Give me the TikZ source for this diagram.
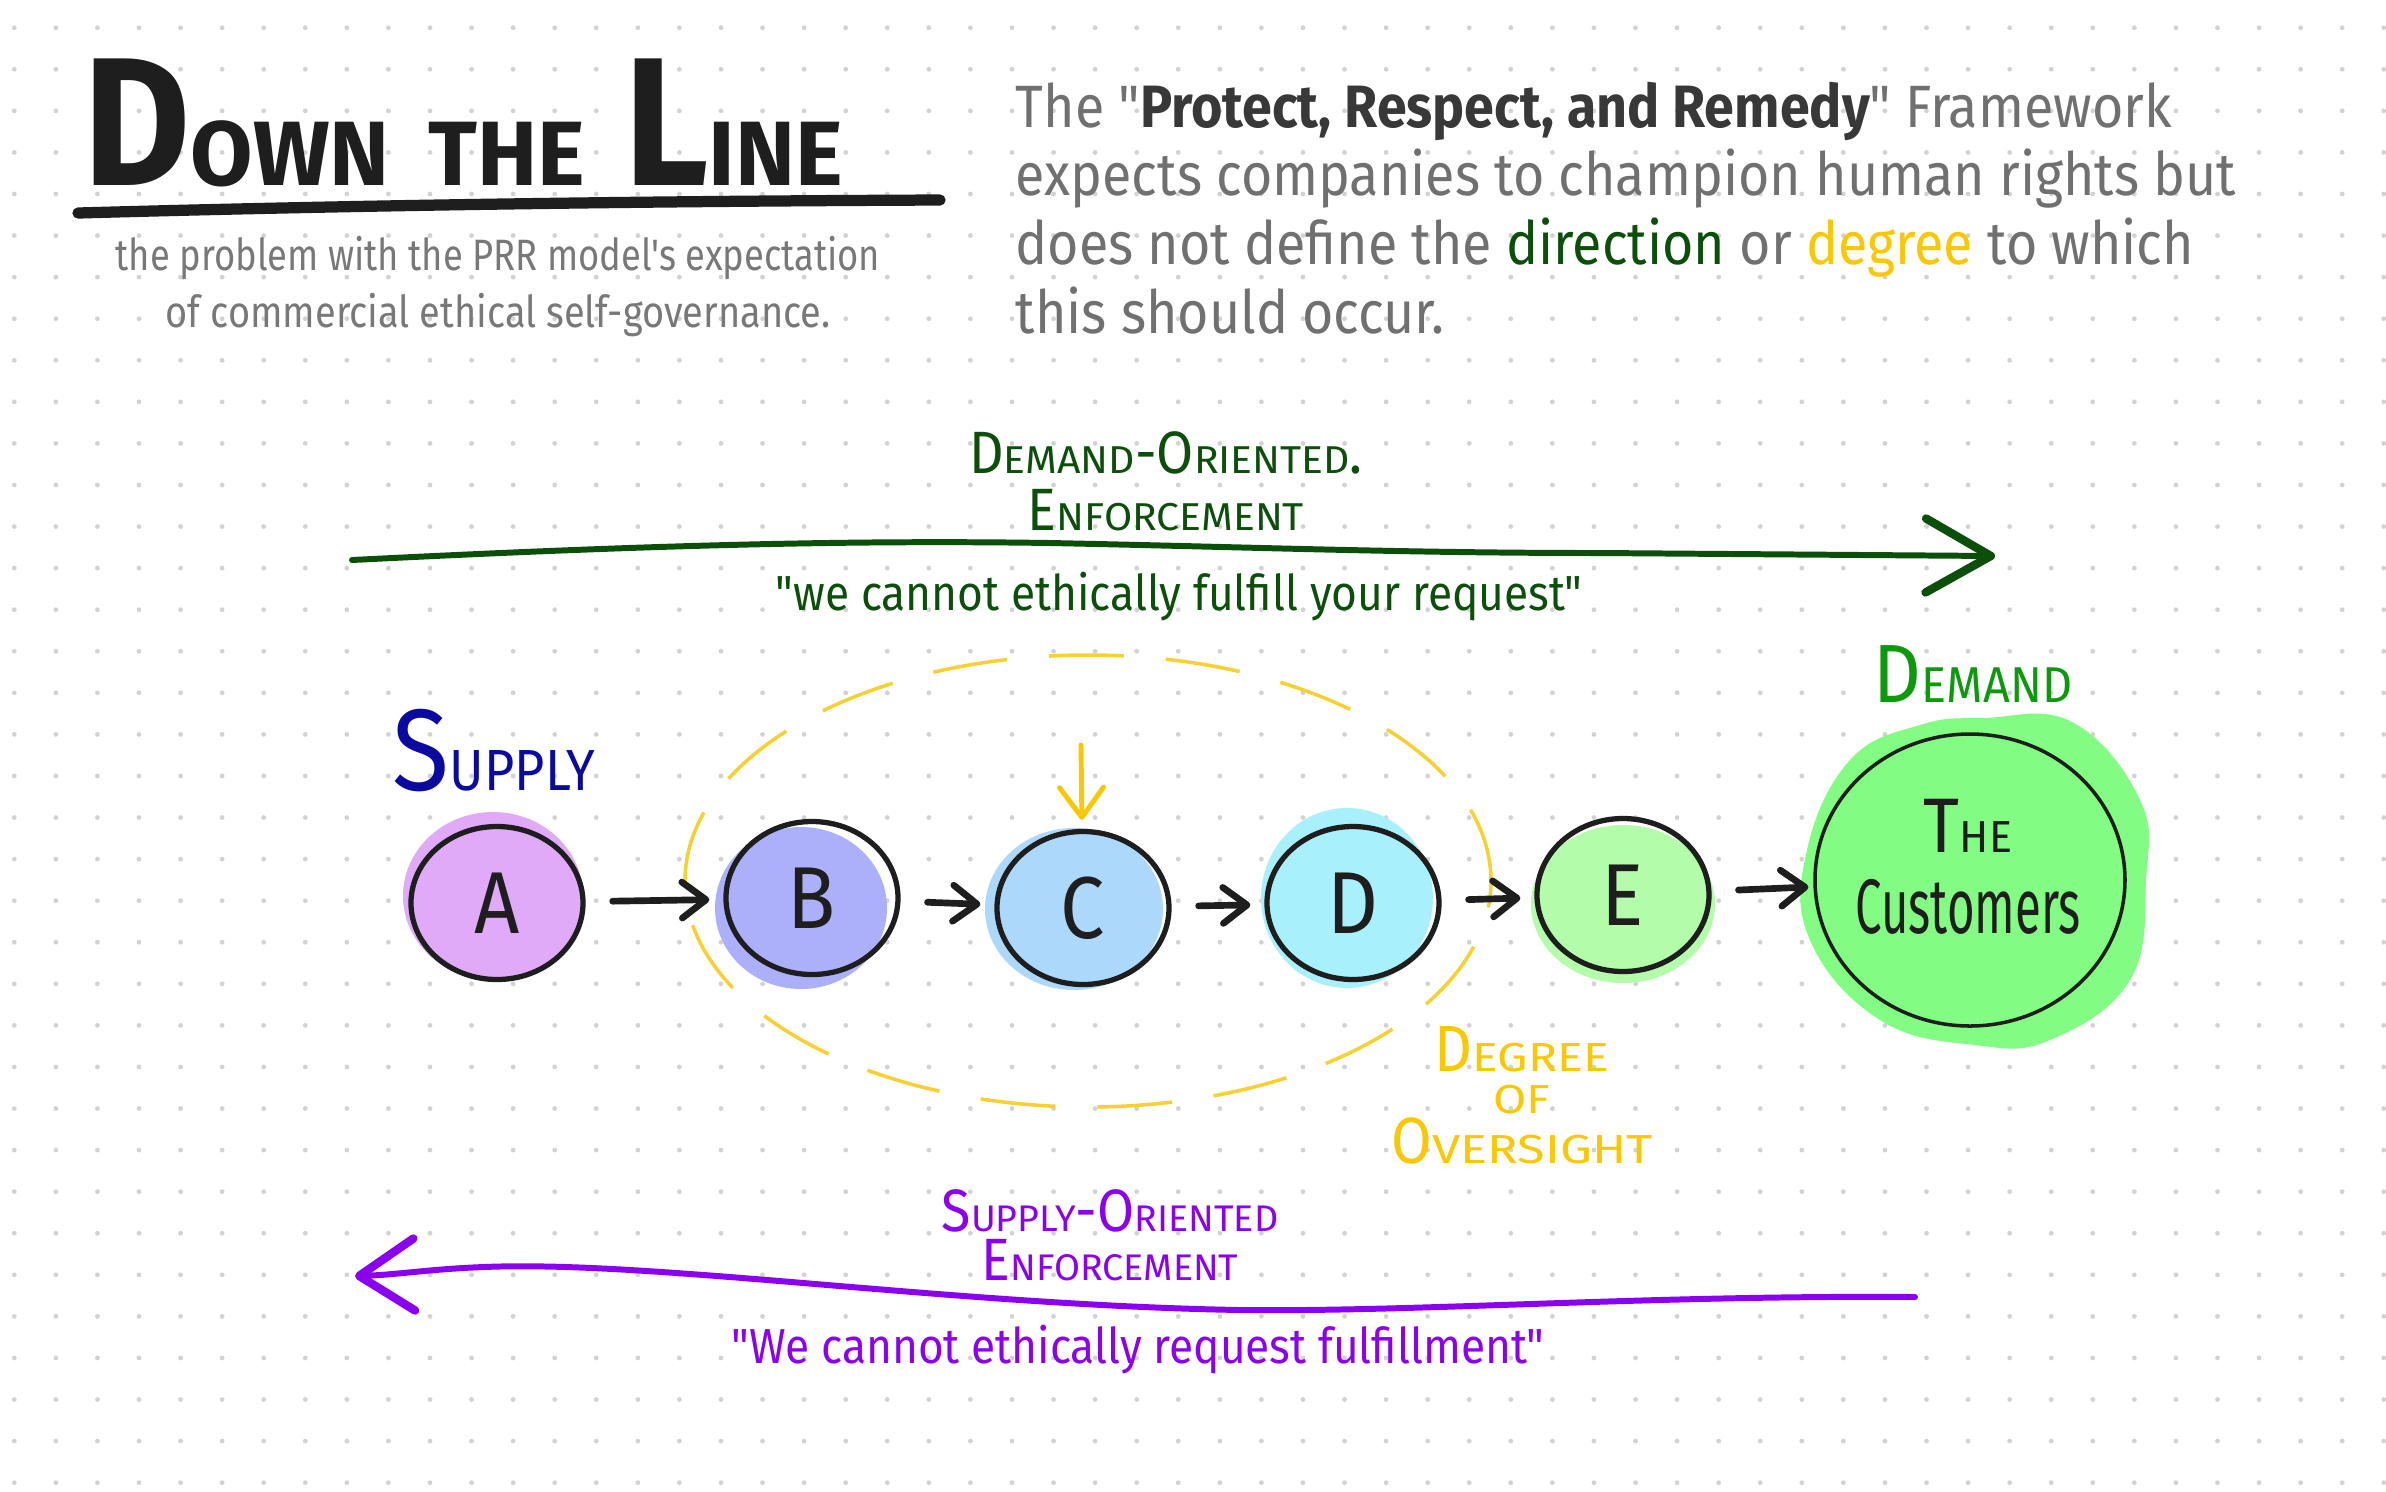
\documentclass[tikz,border=0pt]{standalone}
\usepackage{fontspec}
\usepackage{graphicx}
\setmainfont{Fira Sans}[FakeStretch=0.9, Ligatures=TeXOff]
\usetikzlibrary{positioning, arrows.meta, shapes.geometric}
\definecolor{ink}{HTML}{1E1E1E}
\definecolor{dotgray}{HTML}{D2D2D2}
\definecolor{subgray}{HTML}{787878}
\definecolor{paragray}{HTML}{707070}
\definecolor{boldgray}{HTML}{383838}
\definecolor{dirgreen}{HTML}{0B4F0B}
\definecolor{degyellow}{HTML}{FAC800}
\definecolor{ringyellow}{HTML}{F8D030}
\definecolor{supplyblue}{HTML}{0A0AA0}
\definecolor{demandgreen}{HTML}{0C9A0C}
\definecolor{supplypurple}{HTML}{8C00F0}
\definecolor{fillA}{HTML}{E0AAF8}
\definecolor{fillB}{HTML}{ACB0FA}
\definecolor{fillC}{HTML}{ACD8FC}
\definecolor{fillD}{HTML}{A8F0FC}
\definecolor{fillE}{HTML}{B2FCAA}
\definecolor{fillcust}{HTML}{82FC82}
% big first letter, rest as wide small capitals: {xscale}{yscale}{first}{rest}
\newcommand{\sccap}[4]{#3\scalebox{#1}[#2]{#4}}

\begin{document}
\begin{tikzpicture}[
    station/.style={ellipse, draw=ink, line width=1.5pt, minimum width=1.72cm, minimum height=1.53cm, inner sep=0pt, text=ink, font=\fontsize{25}{25}\selectfont},
    flow/.style={-{Straight Barb[length=2.4mm, width=3.6mm, round]}, draw=ink, line width=1.9pt, line cap=round, shorten <=0.27cm, shorten >=0.14cm},
    bigarrow/.style={line width=1.7pt, line cap=round},
    arrowlabel/.style={align=center, inner sep=0pt, font=\fontsize{17}{16.2}\selectfont},
    quote/.style={inner sep=0pt, font=\fontsize{14}{14}\selectfont}]
    \fill[white] (0,0) rectangle (23.86,-14.91);
    \useasboundingbox (0,0) rectangle (23.86,-14.91);

    % dot grid
    \foreach \col in {0,...,57}
        \foreach \row in {0,...,35}
            \fill[dotgray] ({0.143+0.4157*\col},{-0.277-0.4157*\row}) circle (0.024);

    % heading
    \node[anchor=base west, inner sep=0pt, text=ink, font=\bfseries\fontsize{52}{52}\selectfont] (title) at (0.83,-1.85)
        {\sccap{0.55}{0.5}{D}{OWN} \scalebox{0.55}[0.5]{THE} \sccap{0.55}{0.5}{L}{INE}};
    \draw[ink, line width=3.2pt, line cap=round] (0.78,-2.13) .. controls (4,-2.04) and (7,-2.01) .. (9.40,-2.00);
    \node[anchor=base, align=center, inner sep=0pt, text=subgray, font=\fontsize{12.5}{16.2}\selectfont] (subtitle) at (4.98,-3.27)
        {\scalebox{0.92}[1]{the problem with the PRR model's expectation}\\\scalebox{0.96}[1]{of commercial ethical self-governance.}};
    \node[anchor=base west, align=left, inner sep=0pt, text=paragray, font=\fontsize{17}{19.5}\selectfont] (framework) at (10.15,-3.33)
        {The "\textcolor{boldgray}{\bfseries Protect, Respect, and Remedy}" Framework\\
         expects companies to champion human rights but\\
         does not define the \textcolor{dirgreen}{direction} or \textcolor{degyellow}{degree} to which\\
         this should occur.};

    % demand-oriented arrow
    \coordinate (demandtail) at (3.52,-5.60);
    \coordinate (demandtip) at (19.95,-5.56);
    \draw[bigarrow, dirgreen, -{Straight Barb[length=6.5mm, width=7.4mm, line width=2.4pt, round]}]
        (demandtail) .. controls (6.5,-5.45) and (8.5,-5.40) .. (10.5,-5.43)
        .. controls (12.5,-5.47) and (14,-5.53) .. (16,-5.53) -- (demandtip);
    \node[arrowlabel, anchor=base, text=dirgreen] (demandlabel) at (11.66,-5.30)
        {\sccap{0.76}{0.65}{D}{EMAND}-\sccap{0.76}{0.65}{O}{RIENTED}.\\\sccap{0.76}{0.65}{E}{NFORCEMENT}};
    \node[quote, anchor=base, text=dirgreen] (demandquote) at (11.79,-6.10) {"we cannot ethically fulfill your request"};

    % colour blobs behind the stations
    \fill[fillA] (4.93,-8.96) ellipse [x radius=0.90, y radius=0.84];
    \fill[fillB] (8.01,-9.08) ellipse [x radius=0.86, y radius=0.81];
    \fill[fillC] (10.74,-9.09) ellipse [x radius=0.89, y radius=0.81];
    \fill[fillD] (13.47,-8.98) ellipse [x radius=0.86, y radius=0.90];
    \fill[fillE] (16.23,-9.04) ellipse [x radius=0.92, y radius=0.79];
    \fill[fillcust] plot[smooth cycle, tension=0.7] coordinates
        {(19.84,-7.18) (20.72,-7.22) (21.40,-8.00) (21.46,-8.80) (21.30,-9.80) (20.50,-10.40)
         (19.75,-10.45) (18.80,-10.20) (18.10,-9.40) (18.07,-8.50) (18.50,-7.60) (19.20,-7.25)};

    % degree of oversight ring
    \draw[ringyellow, line width=1pt, dash pattern=on 0.75cm off 0.42cm] (10.88,-8.81) ellipse [x radius=4.03, y radius=2.26];

    % stations
    \node[station] (a) at (4.97,-9.03) {A};
    \node[station] (b) at (8.12,-8.98) {B};
    \node[station] (c) at (10.83,-9.08) {C};
    \node[station] (d) at (13.53,-9.03) {D};
    \node[station] (e) at (16.23,-8.95) {E};
    \node[station, line width=1pt, minimum width=3.1cm, minimum height=2.92cm] (customers) at (19.70,-8.80) {};
    \node[anchor=base, align=center, inner sep=0pt, text=ink, font=\fontsize{22}{23}\selectfont] (customerstext) at (19.68,-9.33)
        {\sccap{0.62}{0.58}{T}{HE}\\\scalebox{0.68}[1]{Customers}};

    \draw[flow] (a) -- (b);
    \draw[flow] (b) -- (c);
    \draw[flow] (c) -- (d);
    \draw[flow] (d) -- (e);
    \draw[flow, shorten >=0.05cm] (e) -- (customers);

    \coordinate (watch) at (10.81,-7.45);
    \draw[degyellow, line width=1.4pt, line cap=round, shorten >=0.09cm, -{Straight Barb[length=3mm, width=4.4mm, round]}] (watch) -- (c);

    \node[anchor=base, inner sep=0pt, text=supplyblue, font=\fontsize{33}{33}\selectfont] (supply) at (4.94,-7.90) {\sccap{0.5}{0.5}{S}{UPPLY}};
    \node[anchor=base, inner sep=0pt, text=demandgreen, font=\fontsize{23.5}{23.5}\selectfont] (demand) at (19.73,-7.02) {\sccap{0.63}{0.61}{D}{EMAND}};
    \node[anchor=base, align=center, inner sep=0pt, text=degyellow, font=\fontsize{18.6}{12}\selectfont] (degree) at (15.22,-11.63)
        {\sccap{0.82}{0.62}{D}{EGREE}\\\scalebox{0.82}[0.62]{OF}\\\sccap{0.86}{0.62}{O}{VERSIGHT}};

    % supply-oriented arrow
    \coordinate (supplytail) at (19.15,-12.97);
    \coordinate (supplytip) at (3.55,-12.76);
    \draw[bigarrow, supplypurple, -{Straight Barb[length=5.5mm, width=7.2mm, line width=2.4pt, round]}]
        (supplytail) .. controls (16.5,-12.95) and (14.2,-13.12) .. (12.4,-13.10)
        .. controls (9.5,-13.05) and (6.5,-12.60) .. (4.84,-12.67)
        .. controls (4.3,-12.69) and (3.95,-12.75) .. (supplytip);
    \node[arrowlabel, anchor=base, text=supplypurple, font=\fontsize{17}{13.7}\selectfont] (supplylabel) at (11.10,-12.80)
        {\sccap{0.7}{0.62}{S}{UPPLY}-\sccap{0.7}{0.62}{O}{RIENTED}\\\sccap{0.7}{0.62}{E}{NFORCEMENT}};
    \node[quote, anchor=base, text=supplypurple] (supplyquote) at (11.38,-13.63) {"We cannot ethically request fulfillment"};
\end{tikzpicture}
\end{document}
